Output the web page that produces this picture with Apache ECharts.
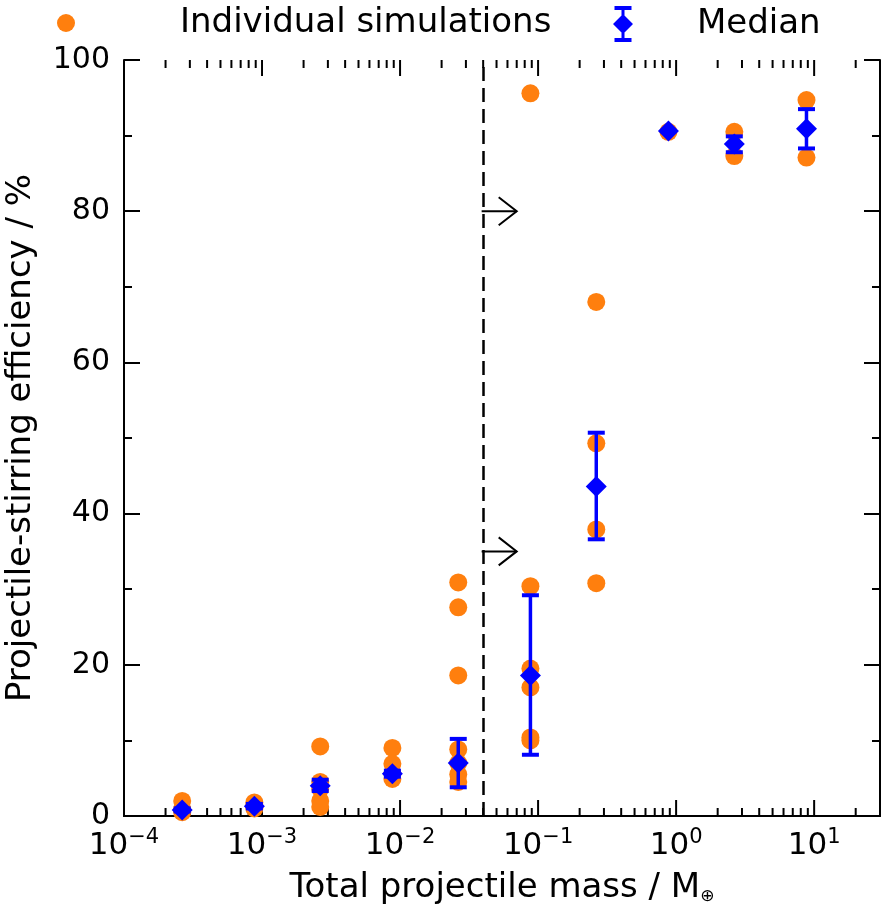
<!DOCTYPE html>
<html>
<head>
<meta charset="utf-8">
<script src="https://cdn.jsdelivr.net/npm/echarts@6/dist/echarts.min.js"></script>
<style>
  html, body { margin: 0; padding: 0; background: #fff; }
  #chart { width: 882px; height: 911px; }
</style>
</head>
<body>
<div id="chart"></div>
<script>
// total projectile mass (Earth masses) of each simulation set
var masses = [2.64e-4, 8.8e-4, 2.64e-3, 8.8e-3, 2.64e-2, 8.8e-2, 0.264, 0.88, 2.64, 8.8];
// stirring efficiency (%) of the individual runs, one list per mass
var individual = [
  [2.0, 0.9, 0.5],
  [1.8, 1.3, 1.0],
  [9.2, 4.5, 3.6, 2.0, 1.2],
  [9.0, 6.9, 5.6, 4.9],
  [30.9, 27.6, 18.6, 8.8, 7.0, 5.5, 4.5],
  [95.6, 30.4, 19.5, 17.0, 10.4, 10.0],
  [68.0, 49.3, 37.9, 30.8],
  [90.5],
  [90.5, 87.3],
  [94.7, 87.1]
];
var medians = [0.8, 1.3, 4.0, 5.6, 7.0, 18.6, 43.6, 90.6, 88.9, 90.9];
var errLow  = [0.6, 1.0, 3.3, 5.2, 3.8, 8.1, 36.6, 90.6, 87.8, 88.3];
var errHigh = [1.0, 1.6, 4.8, 6.0, 10.2, 29.2, 50.7, 90.6, 89.9, 93.5];

// dashed limit and the two "lower limit" arrows
var cutoffMass = 0.039;
var arrowLevels = [80, 35];
var arrowEnd = 0.07;

var xMin = 1e-4, xMax = 30;
var xMajorTicks = [1e-4, 1e-3, 1e-2, 1e-1, 1, 10];
// log minor ticks 2..9 of every decade
var xMinorTicks = [];
for (var e = -4; e <= 1; e++) {
  for (var k = 2; k <= 9; k++) {
    var v = k * Math.pow(10, e);
    if (v < xMax) xMinorTicks.push(v);
  }
}

var FONT = 'DejaVu Sans';
var indivData = [];
masses.forEach(function (m, i) {
  individual[i].forEach(function (y) { indivData.push([m, y]); });
});
var medData = masses.map(function (m, i) { return [m, medians[i]]; });
var errData = masses.map(function (m, i) { return [m, errLow[i], errHigh[i]]; });
var tickData = xMajorTicks.map(function (v) { return [v, 16]; })
  .concat(xMinorTicks.map(function (v) { return [v, 8]; }));

function powLabel(v) {
  var lg = Math.log10(v);
  var e = Math.round(lg);
  if (Math.abs(lg - e) > 1e-6) return '';
  return '{b|10}{s|' + (e < 0 ? '\u2212' + (-e) : e) + '}';
}

var myChart = echarts.init(document.getElementById('chart'));
var option = {
  animation: false,
  backgroundColor: '#fff',
  textStyle: { fontFamily: FONT },
  legend: [
    {
      left: 52, top: -1, itemWidth: 18, itemHeight: 18,
      data: [{ name: 'Individual simulations', icon: 'circle' }],
      textStyle: { fontSize: 34, lineHeight: 38, color: '#000', fontFamily: FONT, padding: [0, 0, 0, 100] }
    },
    {
      left: 608, top: 0, itemWidth: 20, itemHeight: 36,
      data: [{ name: 'Median', icon: 'path://M1.5,0H18.5V4H1.5Z M8.5,0H11.5V36H8.5Z M1.5,32H18.5V36H1.5Z M10,8L20,18L10,28L0,18Z' }],
      textStyle: { fontSize: 34, lineHeight: 38, color: '#000', fontFamily: FONT, padding: [0, 0, 0, 59] }
    }
  ],
  grid: { left: 124, right: 2, top: 60, bottom: 95, outerBoundsMode: 'none', containLabel: false },
  xAxis: [
    {
      type: 'log', logBase: 10, min: xMin, max: xMax, position: 'bottom',
      axisLine: { lineStyle: { color: '#000', width: 2 } },
      axisTick: { show: false },
      splitLine: { show: false },
      axisLabel: {
        margin: 11, showMaxLabel: false, formatter: powLabel,
        rich: {
          b: { fontSize: 31, fontFamily: FONT, color: '#000', lineHeight: 34, verticalAlign: 'bottom' },
          s: { fontSize: 21, fontFamily: FONT, color: '#000', lineHeight: 8, verticalAlign: 'top' }
        }
      },
      name: '{a|Total projectile mass / M}{sub|\u2295}',
      nameLocation: 'middle', nameGap: 49,
      nameTextStyle: {
        rich: {
          a: { fontSize: 34, fontFamily: FONT, color: '#000', lineHeight: 40, verticalAlign: 'bottom' },
          sub: { fontSize: 17, fontFamily: FONT, color: '#000', lineHeight: 22, verticalAlign: 'bottom' }
        }
      }
    },
    {
      type: 'log', logBase: 10, min: xMin, max: xMax, position: 'top',
      axisLine: { lineStyle: { color: '#000', width: 2 } },
      axisTick: { show: false },
      axisLabel: { show: false },
      splitLine: { show: false }
    }
  ],
  yAxis: [
    {
      type: 'value', min: 0, max: 100, interval: 20, position: 'left',
      axisLine: { lineStyle: { color: '#000', width: 2 } },
      axisTick: { inside: true, length: 16, lineStyle: { color: '#000', width: 2 } },
      minorTick: { show: true, splitNumber: 2, length: 8, lineStyle: { color: '#000', width: 2 } },
      splitLine: { show: false },
      axisLabel: { fontSize: 30, color: '#000', fontFamily: FONT, margin: 14 },
      name: 'Projectile-stirring efficiency / %',
      nameLocation: 'middle', nameGap: 86, nameRotate: 90,
      nameTextStyle: { fontSize: 34, color: '#000', fontFamily: FONT }
    },
    {
      type: 'value', min: 0, max: 100, interval: 20, position: 'right',
      axisLine: { lineStyle: { color: '#000', width: 2 } },
      axisTick: { inside: true, length: 16, lineStyle: { color: '#000', width: 2 } },
      minorTick: { show: true, splitNumber: 2, length: 8, lineStyle: { color: '#000', width: 2 } },
      splitLine: { show: false },
      axisLabel: { show: false }
    }
  ],
  series: [
    {
      // log ticks (major and minor) on bottom and top axes, pointing inward
      type: 'custom', silent: true, z: 1,
      data: tickData,
      renderItem: function (params, api) {
        var v = api.value(0);
        var len = api.value(1);
        var b = api.coord([v, 0]);
        var t = api.coord([v, 100]);
        var st = { stroke: '#000', lineWidth: 2 };
        return { type: 'group', children: [
          { type: 'line', shape: { x1: b[0], y1: b[1], x2: b[0], y2: b[1] - len }, style: st },
          { type: 'line', shape: { x1: t[0], y1: t[1], x2: t[0], y2: t[1] + len }, style: st }
        ] };
      }
    },
    {
      // arrows from the dashed limit line
      type: 'custom', silent: true, z: 2,
      data: arrowLevels.map(function (l) { return [cutoffMass, l, arrowEnd]; }),
      renderItem: function (params, api) {
        var a = api.coord([api.value(0), api.value(1)]);
        var b = api.coord([api.value(2), api.value(1)]);
        var st = { stroke: '#000', lineWidth: 2, fill: null };
        return { type: 'group', children: [
          { type: 'line', shape: { x1: a[0], y1: a[1], x2: b[0], y2: b[1] }, style: st },
          { type: 'polyline', shape: { points: [[b[0] - 18, b[1] - 14], [b[0], b[1]], [b[0] - 18, b[1] + 14]] }, style: st }
        ] };
      },
      markLine: {
        silent: true, symbol: 'none', label: { show: false },
        lineStyle: { color: '#000', width: 2.5, type: [14, 7] },
        data: [{ xAxis: cutoffMass }]
      }
    },
    {
      name: 'Individual simulations', type: 'scatter', z: 3,
      symbol: 'circle', symbolSize: 18,
      itemStyle: { color: '#ff7f0e', opacity: 1 },
      data: indivData
    },
    {
      // error bars of the median
      type: 'custom', z: 4, silent: true,
      data: errData,
      renderItem: function (params, api) {
        var x = api.value(0);
        var lo = api.coord([x, api.value(1)]);
        var hi = api.coord([x, api.value(2)]);
        var cap = 8.5;
        return { type: 'group', children: [
          { type: 'line', shape: { x1: lo[0], y1: lo[1], x2: hi[0], y2: hi[1] }, style: { stroke: '#0000ff', lineWidth: 3.5 } },
          { type: 'line', shape: { x1: lo[0] - cap, y1: lo[1], x2: lo[0] + cap, y2: lo[1] }, style: { stroke: '#0000ff', lineWidth: 4 } },
          { type: 'line', shape: { x1: hi[0] - cap, y1: hi[1], x2: hi[0] + cap, y2: hi[1] }, style: { stroke: '#0000ff', lineWidth: 4 } }
        ] };
      }
    },
    {
      name: 'Median', type: 'scatter', z: 5,
      symbol: 'diamond', symbolSize: 21,
      itemStyle: { color: '#0000ff', opacity: 1 },
      data: medData
    }
  ]
};
myChart.setOption(option);
</script>
</body>
</html>
